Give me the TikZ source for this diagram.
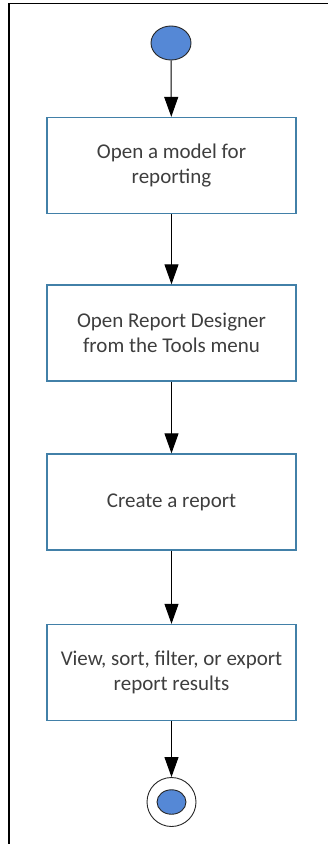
\documentclass[tikz,border=0pt]{standalone}
\usepackage{fontspec}
\setmainfont{Carlito}
\usepackage{xcolor}
\usepackage{tikz}
\usetikzlibrary{arrows.meta,shapes.geometric}

\definecolor{boxblue}{RGB}{66,128,168}
\definecolor{dotblue}{RGB}{85,136,214}
\definecolor{txtgray}{RGB}{62,62,62}

\tikzset{
  stepbox/.style={draw=boxblue, line width=1.3pt, minimum width=249pt,
    minimum height=96pt, inner sep=0pt, align=center, text=txtgray,
    font=\fontsize{21}{25}\selectfont},
  dot/.style={ellipse, draw=black!85, line width=0.9pt, fill=dotblue, inner sep=0pt},
  flow/.style={-{Triangle[width=14pt,length=20pt]}, line width=1pt, black}
}

\begin{document}
\begin{tikzpicture}[x=1pt,y=-1pt]
\useasboundingbox (0,0) rectangle (328,844);
\draw[line width=1.3pt] (9,844) -- (9,3.3) -- (328,3.3);

\node[dot, minimum width=40pt, minimum height=34pt] (start) at (171,43) {};

\node[stepbox] (open) at (171.5,165.5) {Open a model for\\reporting};
\node[stepbox] (designer) at (171.5,333) {Open Report Designer\\from the Tools menu};
\node[stepbox] (create) at (171.5,502) {Create a report};
\node[stepbox] (view) at (171.5,672.5) {View, sort, filter, or export\\report results};

\node[circle, draw=black!85, line width=0.9pt, minimum size=49pt, inner sep=0pt] (stop) at (171.5,802) {};
\node[dot, minimum width=29pt, minimum height=24.5pt] (stopdot) at (stop.center) {};

\draw[flow] (start) -- (open);
\draw[flow] (open) -- (designer);
\draw[flow] (designer) -- (create);
\draw[flow] (create) -- (view);
\draw[flow] (view) -- (stop);

\end{tikzpicture}
\end{document}
